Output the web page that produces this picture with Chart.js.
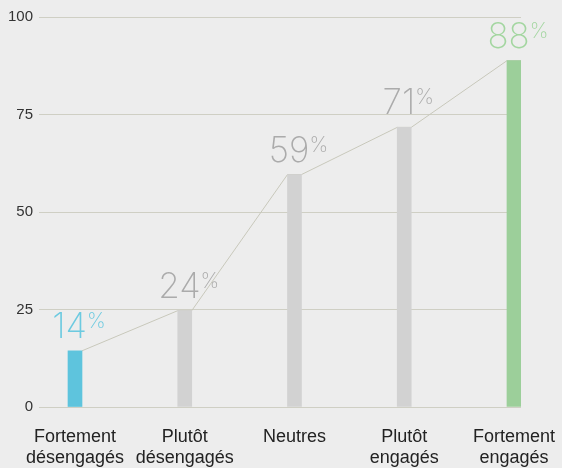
<!DOCTYPE html>
<html>
<head>
<meta charset="utf-8">
<script src="https://cdn.jsdelivr.net/npm/chart.js@4.4.1/dist/chart.umd.min.js"></script>
<style>
  html, body { margin: 0; padding: 0; background: #ededed; }
  #wrap { width: 562px; height: 468px; }
</style>
</head>
<body>
<div id="wrap"><canvas id="chart1"></canvas></div>
<script>
const categories = [
    ["Fortement", "désengagés"],
    ["Plutôt", "désengagés"],
    ["Neutres"],
    ["Plutôt", "engagés"],
    ["Fortement", "engagés"],
];
const values = [14.4, 24.7, 59.6, 71.7, 88.8];
const valueLabels = ["14", "24", "59", "71", "88"];
const yTicks = [0, 25, 50, 75, 100];

const barColors = ["#5ec4dd", "#d2d2d2", "#d2d2d2", "#d2d2d2", "#9ccf9a"];
const labelColors = ["#6ccae0", "#ababab", "#ababab", "#ababab", "#a3d6a0"];

// line from each bar's top right corner to the next bar's top left corner,
// plus the big percentage labels
const topLabels = {
    id: "topLabels",
    beforeDatasetsDraw(chart) {
        const bars = chart.getDatasetMeta(0).data;
        const ctx = chart.ctx;
        ctx.save();
        ctx.strokeStyle = "#c8c8bb";
        ctx.lineWidth = 1;
        ctx.beginPath();
        bars.forEach((b, i) => {
            const half = b.width / 2;
            if (i === 0) ctx.moveTo(b.x + half, b.y);
            else {
                ctx.lineTo(b.x - half, b.y);
                ctx.lineTo(b.x + half, b.y);
            }
        });
        ctx.stroke();
        ctx.restore();
    },
    afterDatasetsDraw(chart) {
        const bars = chart.getDatasetMeta(0).data;
        const ctx = chart.ctx;
        ctx.save();
        bars.forEach((b, i) => {
            const big = "200 35px Inter, Roboto, sans-serif";
            const small = "200 21px Inter, Roboto, sans-serif";
            ctx.font = big;
            const w1 = ctx.measureText(valueLabels[i]).width;
            ctx.font = small;
            const w2 = ctx.measureText("%").width;
            const left = b.x + 4 - (w1 + w2) / 2;
            const base = b.y - 13;
            ctx.fillStyle = labelColors[i];
            ctx.textBaseline = "alphabetic";
            ctx.textAlign = "left";
            ctx.font = big;
            ctx.fillText(valueLabels[i], left, base);
            ctx.font = small;
            ctx.fillText("%", left + w1, base - 10);
        });
        ctx.restore();
    },
};

new Chart(document.getElementById("chart1"), {
    type: "bar",
    data: {
        datasets: [
            {
                data: values.map((y, x) => ({ x, y })),
                backgroundColor: barColors,
                barThickness: 14,
            },
        ],
    },
    options: {
        responsive: true,
        maintainAspectRatio: false,
        animation: false,
        layout: { padding: { top: 17, right: 41, bottom: 0, left: 0 } },
        plugins: {
            legend: { display: false },
            tooltip: { enabled: false },
        },
        scales: {
            x: {
                type: "linear",
                offset: false,
                min: -0.328,
                max: 4.064,
                grid: { display: false },
                border: { display: false },
                afterBuildTicks: (scale) => {
                    scale.ticks = categories.map((_, i) => ({ value: i }));
                },
                afterFit: (scale) => {
                    scale.paddingLeft = 0;
                    scale.paddingRight = 0;
                    scale.height = 61;
                },
                ticks: {
                    maxRotation: 0,
                    autoSkip: false,
                    padding: 11,
                    color: "#222",
                    font: { family: "'Liberation Sans', sans-serif", size: 18, lineHeight: 1.18 },
                    callback: (v) => categories[v],
                },
            },
            y: {
                min: 0,
                max: 100,
                grid: { color: "#cfcfc4", lineWidth: 1, drawTicks: false },
                border: { display: false },
                afterBuildTicks: (scale) => {
                    scale.ticks = yTicks.map((value) => ({ value }));
                },
                afterFit: (scale) => {
                    scale.width = 39;
                },
                ticks: {
                    padding: 6,
                    color: "#333",
                    font: { family: "'Liberation Sans', sans-serif", size: 15 },
                },
            },
        },
    },
    plugins: [topLabels],
});
</script>
</body>
</html>
